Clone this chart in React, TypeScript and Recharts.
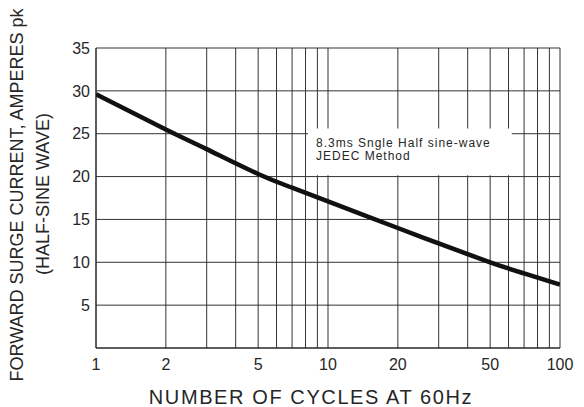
import { LineChart, Line, XAxis, YAxis, CartesianGrid, ReferenceArea } from 'recharts';

// surge current curve
const cycles = [1, 2, 3, 5, 7, 10, 20, 30, 50, 70, 100];
const amps = [29.6, 25.5, 23.2, 20.3, 18.7, 17.1, 14.0, 12.2, 10.0, 8.7, 7.4];

const gridX = [1, 2, 3, 4, 5, 6, 7, 8, 9, 10, 20, 30, 40, 50, 60, 70, 80, 90, 100];
const labelX = [1, 2, 5, 10, 20, 50, 100];
const ticksY = [0, 5, 10, 15, 20, 25, 30, 35];

const noteLines = ['8.3ms Sngle Half sine-wave', 'JEDEC Method'];

const data = cycles.map((c, i) => ({ cycles: c, amps: amps[i] }));

const FONT = '"Liberation Sans", Arial, sans-serif';
const INK = '#262626';

function NoteLabel(props: any) {
  const vb = props.viewBox || { x: 0, y: 0 };
  return (
    <text fontFamily={FONT} fontSize={12} fill={INK} letterSpacing={1}>
      {noteLines.map((t, i) => (
        <tspan key={i} x={vb.x + 8} y={vb.y + 18 + i * 13}>{t}</tspan>
      ))}
    </text>
  );
}

export default function App() {
  return (
    <div style={{ position: 'absolute', left: 0, top: 0, width: 584, height: 407, background: '#fff' }}>
      <LineChart width={584} height={407} data={data} margin={{ top: 48, right: 24, left: 0, bottom: 0 }}>
        <CartesianGrid stroke="#333" strokeWidth={1} />
        <XAxis
          dataKey="cycles"
          type="number"
          scale="log"
          domain={[1, 100]}
          ticks={gridX}
          interval={0}
          allowDataOverflow
          tickFormatter={(v: number) => (labelX.includes(v) ? String(v) : '')}
          tickLine={false}
          tickMargin={5}
          height={59}
          axisLine={{ stroke: '#222' }}
          tick={{ fill: INK, fontSize: 16, fontFamily: FONT }}
        />
        <YAxis
          type="number"
          domain={[0, 35]}
          ticks={ticksY}
          interval={0}
          tickFormatter={(v: number) => (v === 0 ? '' : String(v))}
          tickLine={false}
          tickMargin={0}
          width={96}
          axisLine={{ stroke: '#222' }}
          tick={{ fill: INK, fontSize: 16, fontFamily: FONT }}
        />
        <ReferenceArea
          x1={8.2}
          x2={62}
          y1={20.15}
          y2={25.6}
          fill="#fff"
          fillOpacity={1}
          stroke="none"
          label={<NoteLabel />}
        />
        <Line
          dataKey="amps"
          type="natural"
          stroke="#111"
          strokeWidth={4.5}
          dot={false}
          activeDot={false}
          isAnimationActive={false}
        />
        <text fontFamily={FONT} fontSize={18} fill={INK} textAnchor="middle" transform="translate(23,195) rotate(-90)">
          FORWARD SURGE CURRENT, AMPERES pk
        </text>
        <text fontFamily={FONT} fontSize={18} fill={INK} textAnchor="middle" transform="translate(49,194) rotate(-90)">
          (HALF-SINE WAVE)
        </text>
        <text x={311} y={404} fontFamily={FONT} fontSize={20} fill={INK} textAnchor="middle" letterSpacing={1.6}>
          NUMBER OF CYCLES AT 60Hz
        </text>
      </LineChart>
    </div>
  );
}
